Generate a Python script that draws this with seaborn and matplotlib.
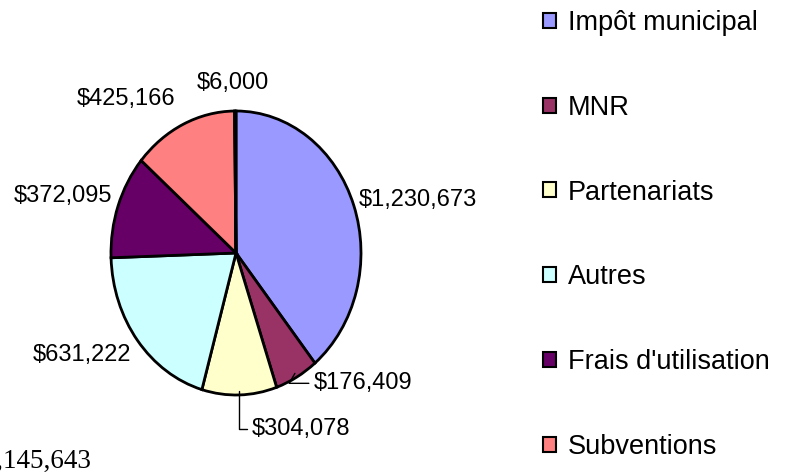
import matplotlib
matplotlib.use("Agg")
import matplotlib.pyplot as plt
from matplotlib.patches import Patch
import numpy as np
import seaborn as sns

# ---- data ----
categories = ["Impôt municipal", "MNR", "Partenariats", "Autres",
              "Frais d'utilisation", "Subventions", "Dons"]
values = [1230673, 176409, 304078, 631222, 372095, 425166, 6000]
colors = ["#9999FF", "#993366", "#FFFFCC", "#CCFFFF", "#660066", "#FF8080", "#0066CC"]
legend_count = 6  # entries visible inside the canvas

# ---- layout of value labels (radial distance, extra offsets, leader) ----
label_r = [1.03, 1.05, 1.24, 1.10, 1.10, 1.15, 1.20]
label_dx = [0.01, 0.11, 0.09, 0.03, 0.05, 0.0, -0.02]
label_dy = [0.03, 0.0, 0.0, -0.04, 0.04, 0.04, 0.0]
label_ha = ["left", "left", "left", "right", "right", "right", "center"]
leader = [False, True, True, False, False, False, False]

sns.set_theme(style="white")
plt.rcParams["font.family"] = ["Liberation Sans", "DejaVu Sans"]
plt.rcParams["text.color"] = "black"

fig = plt.figure(figsize=(7.86, 4.72), dpi=100)
ax = fig.add_axes([36 / 786, 6 / 472, 400 / 786, 426 / 472])

wedges, _ = ax.pie(values, colors=colors, startangle=90, counterclock=False,
                   radius=1.0,
                   wedgeprops=dict(edgecolor="black", linewidth=2.0))
ax.set_aspect("auto")
ax.set_xlim(-1.6, 1.6)
ax.set_ylim(-1.5, 1.5)
ax.axis("off")

for i, w in enumerate(wedges):
    mid = np.deg2rad((w.theta1 + w.theta2) / 2)
    ex, ey = np.cos(mid), np.sin(mid)
    tx = ex * label_r[i] + label_dx[i]
    ty = ey * label_r[i] + label_dy[i]
    txt = f"${values[i]:,}"
    if leader[i]:
        if i == 2:
            cs = "angle,angleA=0,angleB=90,rad=0"
        else:
            cs = "angle,angleA=0,angleB=60,rad=0"
        ax.annotate(txt, xy=(ex * 0.97, ey * 0.97), xytext=(tx, ty),
                    ha="left", va="center", fontsize=17, color="black",
                    arrowprops=dict(arrowstyle="-", color="black", lw=1.0,
                                    connectionstyle=cs, relpos=(0, 0.5),
                                    shrinkA=1, shrinkB=0))
    else:
        ax.text(tx, ty, txt, ha=label_ha[i], va="center", fontsize=17,
                color="black")

handles = [Patch(facecolor=colors[i], edgecolor="black", linewidth=1.5)
           for i in range(legend_count)]
leg = fig.legend(handles, categories[:legend_count], loc="upper left",
                 bbox_to_anchor=(543 / 786, 1 - 10 / 472), frameon=False,
                 fontsize=19.5, handlelength=0.48, handleheight=0.48,
                 handletextpad=0.45, labelspacing=2.17, borderpad=0,
                 borderaxespad=0)
for t in leg.get_texts():
    t.set_color("black")

total = sum(values)
fig.text(92 / 786, 4 / 472, f"${total:,}", ha="right", va="baseline",
         fontsize=19.5, family=["Liberation Serif", "DejaVu Serif"],
         color="black")

fig.savefig("out.png", dpi=100, facecolor="white")
